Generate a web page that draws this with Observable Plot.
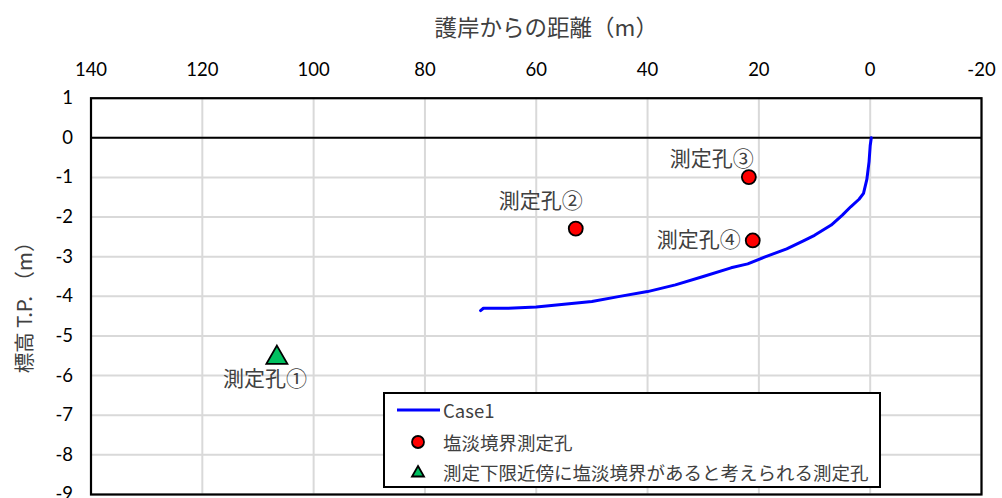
<!DOCTYPE html>
<html><head><meta charset="utf-8">
<script src="https://cdn.jsdelivr.net/npm/d3@7"></script>
<script src="https://cdn.jsdelivr.net/npm/@observablehq/plot@0.6"></script>
<style>
body{margin:0;background:#fff;}
#wrap{position:relative;width:1002px;height:498px;overflow:hidden;}
#legend{position:absolute;left:383px;top:392px;width:498px;height:96px;border:2px solid #000;background:#fff;box-sizing:border-box;font-family:"Noto Sans CJK JP",sans-serif;color:#404040;}
#legend .item{position:absolute;left:0;height:30px;display:flex;align-items:center;}
#legend svg{display:block;}
#legend span{font-size:18.5px;white-space:nowrap;}
</style></head><body><div id="wrap"></div>
<script>
// ---- data ----
const xTicks = [140, 120, 100, 80, 60, 40, 20, 0, -20];
const yTicks = [1, 0, -1, -2, -3, -4, -5, -6, -7, -8, -9];
const caseName = "Case1";
const caseDist = [70, 69.5, 65, 60, 55, 50, 45, 40, 35, 30, 25, 22, 19, 15, 12, 10, 7, 5, 3.5, 2, 1.2, 0.6, 0.2, 0.0, -0.2];
const caseElev = [-4.36, -4.30, -4.30, -4.27, -4.20, -4.13, -4.00, -3.88, -3.71, -3.50, -3.28, -3.18, -3.01, -2.80, -2.60, -2.46, -2.20, -1.95, -1.74, -1.55, -1.40, -1.05, -0.60, -0.20, 0];
const holeName = "塩淡境界測定孔";
const holeLabels = ["測定孔②", "測定孔③", "測定孔④"];
const holeDist = [52.9, 21.8, 21.1];
const holeElev = [-2.29, -0.99, -2.59];
const lowerName = "測定下限近傍に塩淡境界があると考えられる測定孔";
const lowerLabels = ["測定孔①"];
const lowerDist = [106.6];
const lowerElev = [-5.55];
const xTitle = "護岸からの距離（m）";
const yTitle = "標高 T.P. （m）";

const caseData = caseDist.map((d, i) => ({dist: d, elev: caseElev[i]}));
const holes = holeLabels.map((n, i) => ({name: n, dist: holeDist[i], elev: holeElev[i]}));
const lower = lowerLabels.map((n, i) => ({name: n, dist: lowerDist[i], elev: lowerElev[i]}));

const jp = '"Noto Sans CJK JP", sans-serif';
const num = 'Lato, "Open Sans", sans-serif';
const lab = (name, dx, dy, anchor) => Plot.text(holes.concat(lower).filter(d => d.name === name), {
  x: "dist", y: "elev", text: "name", dx, dy, textAnchor: anchor,
  fontFamily: jp, fontSize: 21, fill: "#404040"
});

const chart = Plot.plot({
  width: 1002, height: 498,
  marginLeft: 90.5, marginRight: 21, marginTop: 97.7, marginBottom: 4,
  style: {fontFamily: num, background: "transparent", overflow: "visible"},
  x: {domain: [140, -20], ticks: xTicks},
  y: {domain: [-9, 1], ticks: yTicks},
  marks: [
    Plot.gridX(xTicks, {stroke: "#d9d9d9", strokeOpacity: 1, strokeWidth: 2}),
    Plot.gridY(yTicks, {stroke: "#d9d9d9", strokeOpacity: 1, strokeWidth: 2}),
    Plot.ruleY([0], {stroke: "#000", strokeWidth: 2}),
    Plot.frame({stroke: "#000", strokeWidth: 2.2}),
    Plot.axisX(xTicks, {anchor: "top", tickSize: 0, tickPadding: 22, fontSize: 18.5, fill: "#000", label: null, tickFormat: d => String(d)}),
    Plot.axisY(yTicks, {anchor: "left", tickSize: 0, tickPadding: 18, fontSize: 18.5, fill: "#000", label: null, tickFormat: d => String(d)}),
    Plot.line(caseData, {x: "dist", y: "elev", stroke: "#0000ff", strokeWidth: 3, strokeLinejoin: "round"}),
    Plot.dot(holes, {x: "dist", y: "elev", r: 7, fill: "#ff0000", stroke: "#000", strokeWidth: 1.8}),
    Plot.dot(lower, {x: "dist", y: "elev", symbol: "triangle", r: 7.8, fill: "#00c060", stroke: "#000", strokeWidth: 1.8}),
    lab("測定孔②", 7, -27, "end"),
    lab("測定孔③", 5, -18, "end"),
    lab("測定孔④", -12, 0, "end"),
    lab("測定孔①", 30, 21, "end"),
    Plot.text([xTitle], {frameAnchor: "top", lineAnchor: "middle", textAnchor: "middle", dx: 10, dy: -69.5, fontFamily: jp, fontSize: 22.5, fill: "#404040"}),
    Plot.text([yTitle], {frameAnchor: "left", textAnchor: "middle", lineAnchor: "middle", rotate: -90, dx: -65.5, dy: 6, fontFamily: jp, fontSize: 20.5, fill: "#404040"})
  ]
});
const wrap = document.getElementById("wrap");
wrap.appendChild(chart);

// legend
const leg = document.createElement("div");
leg.id = "legend";
const items = [
  {top: 1, sym: `<svg width="58" height="30"><line x1="12" y1="15" x2="55" y2="15" stroke="#0000ff" stroke-width="3"/></svg>`, text: caseName, font: num},
  {top: 33, sym: `<svg width="58" height="30"><circle cx="33" cy="15" r="6" fill="#ff0000" stroke="#000" stroke-width="1.8"/></svg>`, text: holeName, font: jp},
  {top: 63, sym: `<svg width="58" height="30"><path d="M33,9 L39,19.5 L27,19.5 Z" fill="#00c060" stroke="#000" stroke-width="1.8"/></svg>`, text: lowerName, font: jp}
];
for (const it of items) {
  const d = document.createElement("div");
  d.className = "item";
  d.style.top = it.top + "px";
  d.innerHTML = it.sym + `<span style="font-family:${it.font}">${it.text}</span>`;
  leg.appendChild(d);
}
wrap.appendChild(leg);
</script>
</body></html>
